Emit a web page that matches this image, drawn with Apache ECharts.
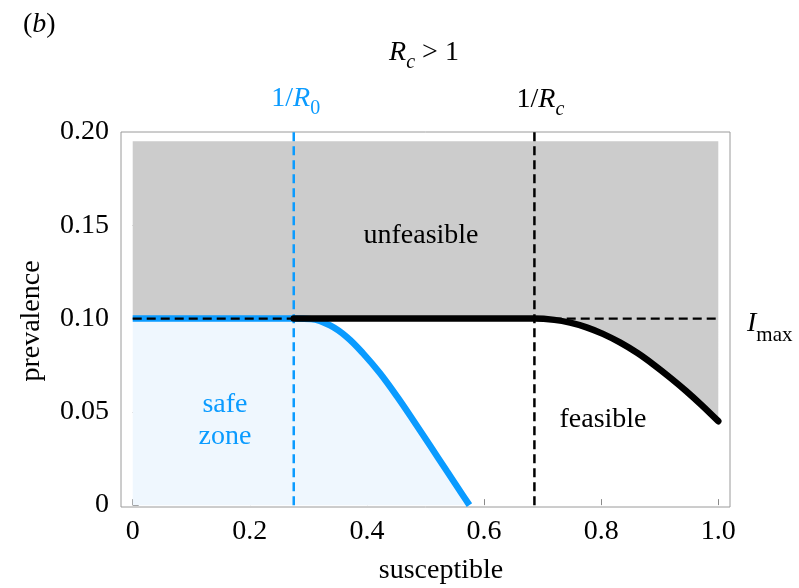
<!DOCTYPE html>
<html>
<head>
<meta charset="utf-8">
<script src="https://cdn.jsdelivr.net/npm/echarts@6/dist/echarts.min.js"></script>
<style>
  html, body { margin: 0; padding: 0; background: #ffffff; }
  #chart { width: 799px; height: 588px; }
</style>
</head>
<body>
<div id="chart"></div>
<script>
// Axis ticks and their labels
const xTicks = [0, 0.2, 0.4, 0.6, 0.8, 1.0];
const xTickLabels = ['0', '0.2', '0.4', '0.6', '0.8', '1.0'];
const yTicks = [0, 0.05, 0.10, 0.15, 0.20];
const yTickLabels = ['0', '0.05', '0.10', '0.15', '0.20'];

// Thresholds
const invR0 = 0.275;      // 1/R0
const invRc = 0.686;      // 1/Rc
const Imax = 0.10;        // maximum prevalence
const unfeasibleTop = 0.195;

// Boundary of the safe zone (susceptible, prevalence)
const safeCurve = [
  [0, 0.10], [0.275, 0.10], [0.305, 0.0997], [0.337, 0.0963], [0.366, 0.0900],
  [0.393, 0.0815], [0.422, 0.0708], [0.451, 0.0584], [0.479, 0.0455],
  [0.508, 0.0318], [0.537, 0.0180], [0.564, 0.0052], [0.575, 0]
];

// Boundary between feasible and unfeasible states
const feasibleCurve = [
  [0, 0.10], [0.275, 0.10], [0.686, 0.10], [0.720, 0.0993], [0.747, 0.0978],
  [0.775, 0.0953], [0.803, 0.0918], [0.832, 0.0872], [0.862, 0.0815],
  [0.890, 0.0752], [0.918, 0.0683], [0.945, 0.0612], [0.972, 0.0535], [1.0, 0.0450]
];

const FONT = 'Liberation Serif';
const BLUE = '#0a9bff';
const SMOOTH = 0.35;
const chart = echarts.init(document.getElementById('chart'), null, { renderer: 'canvas' });

function dashedLine(data, color, width, z) {
  return {
    type: 'line', data: data, showSymbol: false, symbol: 'none', z: z,
    lineStyle: { color: color, width: width, type: [9, 5] },
    silent: true, animation: false
  };
}

const option = {
  animation: false,
  grid: {
    left: 121, top: 132, width: 609, height: 375,
    show: true, borderColor: '#9a9a9a', borderWidth: 1, backgroundColor: 'transparent'
  },
  xAxis: {
    type: 'value', min: -0.02, max: 1.02,
    splitLine: { show: false },
    axisLine: { show: false },
    axisTick: { show: true, inside: true, length: 6, customValues: xTicks, lineStyle: { color: '#8a8a8a' } },
    axisLabel: {
      customValues: xTicks, margin: 11,
      formatter: v => xTickLabels[xTicks.findIndex(t => Math.abs(t - v) < 1e-9)],
      fontFamily: FONT, fontSize: 28, color: '#000'
    }
  },
  yAxis: {
    type: 'value', min: -0.001, max: 0.2,
    splitLine: { show: false },
    axisLine: { show: false },
    axisTick: { show: true, inside: true, length: 6, customValues: yTicks.slice(0, 4), lineStyle: { color: '#8a8a8a' } },
    axisLabel: {
      customValues: yTicks, margin: 12,
      formatter: v => yTickLabels[yTicks.findIndex(t => Math.abs(t - v) < 1e-9)],
      fontFamily: FONT, fontSize: 28, color: '#000'
    }
  },
  series: [
    { // unfeasible region
      type: 'line', data: feasibleCurve, showSymbol: false, symbol: 'none', z: 1,
      lineStyle: { width: 0 }, smooth: SMOOTH,
      areaStyle: { color: '#cccccc', opacity: 1, origin: unfeasibleTop }
    },
    { // safe zone
      type: 'line', data: safeCurve, showSymbol: false, symbol: 'none', z: 2,
      lineStyle: { width: 0 }, smooth: SMOOTH,
      areaStyle: { color: '#eff7fe', opacity: 1, origin: 0 }
    },
    dashedLine([[invR0, 0], [invR0, 0.2]], BLUE, 2.5, 3),
    dashedLine([[invRc, 0], [invRc, 0.2]], '#000', 2.5, 3),
    { // safe-zone boundary
      type: 'line', data: safeCurve, showSymbol: false, symbol: 'none', z: 4,
      smooth: SMOOTH,
      lineStyle: { color: BLUE, width: 6.5, cap: 'butt' }
    },
    dashedLine([[0, Imax], [1, Imax]], '#000', 2.2, 5),
    { // feasibility boundary
      type: 'line', data: feasibleCurve.slice(1), showSymbol: false, symbol: 'none', z: 6,
      smooth: SMOOTH,
      lineStyle: { color: '#000', width: 6.5, cap: 'round' }
    }
  ]
};
chart.setOption(option);

// ---- text annotations with italic symbols and subscripts ----
const measureCtx = document.createElement('canvas').getContext('2d');
function fontStr(p) { return (p.italic ? 'italic ' : '') + p.size + 'px "' + FONT + '"'; }
function textWidth(p) { measureCtx.font = fontStr(p); return measureCtx.measureText(p.text).width; }

// pieces laid out left to right from x on a shared baseline
function formula(pieces, x, baseline, color, align) {
  const total = pieces.reduce((s, p) => s + textWidth(p), 0);
  let cx = align === 'center' ? x - total / 2 : x;
  const els = [];
  pieces.forEach(p => {
    const b = baseline + (p.dy || 0);
    els.push({
      type: 'text', x: cx, y: b - 0.34 * p.size, z: 100,
      style: {
        text: p.text, fill: color, font: fontStr(p),
        align: 'left', verticalAlign: 'middle'
      }
    });
    cx += textWidth(p);
  });
  return els;
}

const R = (t, s) => ({ text: t, size: s || 28 });
const I = (t, s) => ({ text: t, size: s || 28, italic: true });
const Sub = (t, italic) => ({ text: t, size: 20, italic: !!italic, dy: 8 });

const pR0 = chart.convertToPixel({ gridIndex: 0 }, [invR0, 0.2]);
const pRc = chart.convertToPixel({ gridIndex: 0 }, [invRc, 0.2]);
const pImax = chart.convertToPixel({ gridIndex: 0 }, [1.02, Imax]);

let graphics = [];
graphics = graphics.concat(formula([R('('), I('b'), R(')')], 23, 34, '#000', 'left'));
graphics = graphics.concat(formula([I('R'), Sub('c', true), R(' > 1')], 424, 62, '#000', 'center'));
graphics = graphics.concat(formula([R('1/'), I('R'), Sub('0')], pR0[0] + 2, 108, BLUE, 'center'));
graphics = graphics.concat(formula([R('1/'), I('R'), Sub('c', true)], pRc[0] + 6, 109, '#000', 'center'));
graphics = graphics.concat(formula([I('I'), { text: 'max', size: 21, dy: 9 }], pImax[0] + 17, pImax[1] + 15, '#000', 'left'));
graphics = graphics.concat(formula([R('unfeasible')], 421, 245, '#000', 'center'));
graphics = graphics.concat(formula([R('safe')], 225, 414, BLUE, 'center'));
graphics = graphics.concat(formula([R('zone')], 225, 446, BLUE, 'center'));
graphics = graphics.concat(formula([R('feasible')], 603, 429, '#000', 'center'));
graphics = graphics.concat(formula([R('susceptible')], 441, 580, '#000', 'center'));
graphics.push({
  type: 'text', x: 32, y: 321, rotation: Math.PI / 2, z: 100,
  style: { text: 'prevalence', fill: '#000', font: '28px "' + FONT + '"', align: 'center', verticalAlign: 'middle' }
});

chart.setOption({ graphic: { elements: graphics } });
</script>
</body>
</html>
